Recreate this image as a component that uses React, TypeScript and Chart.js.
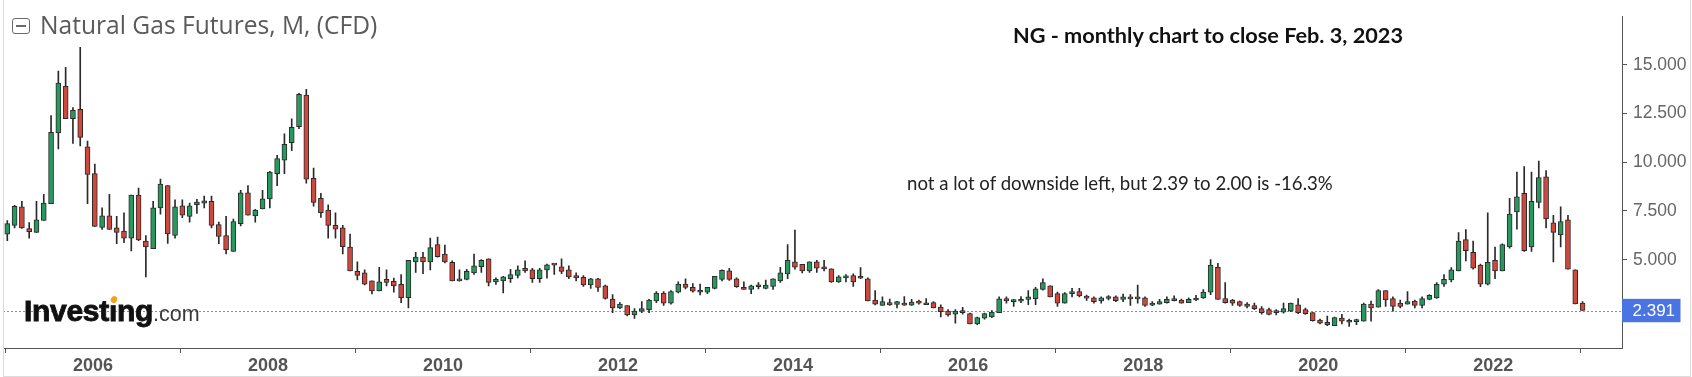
import React, { useEffect, useRef } from 'react';
import { Chart, registerables } from 'chart.js';

Chart.register(...registerables);

// Monthly NG candles, Feb 2005 .. Feb 2023
const opens: number[] = [
  6.31, 6.76, 7.71, 6.60, 6.40, 7.01, 7.87, 11.50, 13.89, 12.23, 12.72,
  10.79, 9.42, 6.65, 7.25, 6.63, 6.47, 6.11, 8.31, 5.95, 5.57, 7.66, 8.80,
  6.24, 7.77, 7.22, 7.82, 7.90, 7.99, 6.80, 6.24, 5.42, 6.85, 8.43, 7.25,
  7.61, 8.12, 9.42, 10.11, 11.00, 11.82, 13.45, 9.18, 8.15, 7.55, 6.76, 6.63,
  5.65, 4.40, 4.32, 3.91, 3.40, 3.99, 3.89, 3.73, 3.05, 4.89, 5.13, 4.89,
  5.78, 5.29, 4.87, 3.91, 3.99, 4.32, 4.64, 5.05, 3.86, 3.91, 4.02, 4.19,
  4.56, 4.48, 4.02, 4.48, 4.74, 4.64, 4.48, 4.19, 4.10, 3.70, 4.02, 3.66,
  2.98, 2.52, 2.65, 2.16, 2.36, 2.44, 2.88, 3.29, 2.77, 3.34, 3.75, 3.58,
  3.36, 3.34, 3.53, 3.99, 4.43, 4.02, 3.58, 3.47, 3.61, 3.53, 3.63, 3.91,
  4.27, 4.89, 4.76, 4.43, 4.89, 4.64, 4.53, 3.86, 4.07, 4.19, 4.05, 4.02,
  2.93, 2.65, 2.80, 2.70, 2.77, 2.67, 2.85, 2.77, 2.80, 2.57, 2.36, 2.21,
  2.39, 2.23, 1.71, 2.00, 2.06, 2.28, 3.00, 2.85, 2.87, 2.96, 3.00, 3.48,
  3.66, 3.26, 2.77, 3.26, 3.37, 3.07, 3.04, 2.88, 3.01, 3.09, 2.96, 3.09,
  2.99, 3.04, 2.67, 2.72, 2.80, 2.96, 2.93, 2.80, 2.93, 3.04, 3.34, 4.61,
  3.01, 2.93, 2.85, 2.72, 2.64, 2.49, 2.44, 2.28, 2.31, 2.36, 2.69, 2.44,
  2.28, 1.90, 1.79, 1.62, 2.00, 1.87, 1.82, 1.84, 2.72, 2.57, 3.42, 3.01,
  2.77, 2.72, 2.88, 2.65, 2.96, 3.04, 3.74, 3.96, 4.43, 6.03, 5.38, 4.72,
  3.74, 4.97, 4.43, 5.65, 7.45, 8.40, 5.65, 7.94, 9.25, 6.89, 6.27, 7.05,
  4.48, 2.77,
];

const highs: number[] = [
  7.01, 7.79, 7.99, 6.90, 7.99, 8.36, 12.40, 14.68, 14.87, 12.80, 15.90,
  11.09, 9.91, 7.66, 8.36, 7.22, 7.41, 8.31, 8.67, 6.24, 7.99, 9.13, 8.80,
  8.07, 8.07, 7.90, 8.10, 8.26, 8.26, 6.93, 7.22, 7.09, 8.56, 8.80, 7.58,
  8.56, 9.54, 10.35, 11.46, 12.23, 13.54, 13.74, 9.70, 8.40, 7.82, 7.41, 6.76,
  6.31, 4.89, 4.48, 3.91, 4.61, 4.48, 4.06, 4.24, 4.97, 5.38, 5.38, 6.11,
  6.16, 5.75, 4.94, 4.48, 4.51, 5.29, 5.00, 5.05, 4.07, 4.15, 4.51, 4.69,
  4.94, 4.56, 4.56, 4.77, 4.77, 5.05, 4.69, 4.32, 4.19, 4.05, 4.05, 3.70,
  3.21, 2.80, 2.65, 2.49, 2.85, 2.96, 3.37, 3.37, 3.42, 3.86, 4.02, 3.78,
  3.75, 3.58, 4.15, 4.48, 4.56, 4.07, 3.86, 3.70, 3.83, 3.96, 4.02, 4.61,
  5.78, 6.52, 4.76, 4.89, 4.97, 4.97, 4.53, 4.19, 4.24, 4.28, 4.59, 4.07,
  3.42, 3.09, 2.98, 2.87, 3.11, 2.96, 2.93, 3.00, 2.85, 2.69, 2.44, 2.44,
  2.55, 2.26, 2.06, 2.26, 2.39, 3.09, 3.09, 2.96, 3.11, 3.42, 3.58, 4.02,
  3.66, 3.34, 3.31, 3.53, 3.53, 3.19, 3.09, 3.09, 3.16, 3.14, 3.24, 3.21,
  3.70, 3.09, 2.85, 2.96, 3.09, 3.14, 2.98, 3.04, 3.17, 3.47, 5.00, 4.81,
  3.83, 2.96, 2.88, 2.80, 2.77, 2.60, 2.52, 2.44, 2.77, 2.77, 3.01, 2.52,
  2.28, 1.95, 2.11, 2.06, 2.20, 1.95, 1.95, 2.77, 2.88, 3.47, 3.42, 3.09,
  2.93, 3.37, 2.93, 3.09, 3.21, 3.83, 4.24, 4.59, 6.39, 6.55, 5.95, 4.77,
  7.41, 5.65, 5.81, 8.15, 9.50, 9.78, 9.50, 10.06, 9.57, 7.28, 7.71, 7.28,
  4.48, 2.85,
];

const lows: number[] = [
  5.98, 6.63, 6.60, 6.11, 6.40, 7.01, 7.87, 10.68, 12.23, 10.97, 10.84,
  7.87, 6.71, 6.55, 6.55, 5.82, 5.87, 5.45, 5.98, 4.12, 5.57, 7.33, 5.83,
  6.11, 7.15, 6.92, 7.38, 7.66, 6.63, 5.82, 5.30, 5.42, 6.73, 7.28, 6.92,
  7.61, 7.66, 8.80, 9.42, 10.60, 11.72, 8.92, 7.74, 7.17, 6.11, 6.11, 5.30,
  4.43, 3.96, 3.70, 3.24, 3.40, 3.66, 3.34, 2.80, 2.52, 4.35, 4.28, 4.48,
  5.13, 4.84, 3.91, 3.90, 3.96, 4.24, 4.35, 3.66, 3.73, 3.30, 3.83, 4.07,
  4.35, 3.83, 3.83, 4.05, 4.24, 4.28, 4.02, 3.91, 3.63, 3.53, 3.37, 2.98,
  2.28, 2.49, 2.11, 1.99, 2.28, 2.28, 2.80, 2.65, 2.72, 3.29, 3.50, 3.34,
  3.19, 3.26, 3.50, 3.91, 3.94, 3.58, 3.47, 3.26, 3.50, 3.50, 3.47, 3.83,
  4.02, 4.51, 4.32, 4.35, 4.35, 4.43, 3.83, 3.83, 3.86, 3.63, 4.02, 2.88,
  2.68, 2.65, 2.65, 2.52, 2.65, 2.65, 2.72, 2.69, 2.52, 2.06, 2.10, 1.74,
  2.21, 1.71, 1.67, 1.95, 2.03, 2.28, 2.77, 2.60, 2.80, 2.69, 2.69, 3.44,
  3.09, 2.60, 2.77, 3.09, 3.09, 2.91, 2.77, 2.77, 2.93, 2.85, 2.85, 2.65,
  2.77, 2.60, 2.64, 2.72, 2.77, 2.88, 2.77, 2.80, 2.90, 3.01, 3.21, 2.96,
  2.77, 2.65, 2.60, 2.52, 2.44, 2.20, 2.16, 2.16, 2.26, 2.33, 2.23, 2.19,
  1.84, 1.71, 1.62, 1.62, 1.71, 1.58, 1.67, 1.84, 1.84, 2.57, 2.60, 2.36,
  2.52, 2.72, 2.52, 2.52, 2.93, 3.01, 3.63, 3.86, 4.43, 4.94, 4.51, 3.61,
  3.71, 4.02, 4.43, 5.59, 6.56, 5.42, 5.42, 7.66, 6.63, 4.89, 5.65, 4.51,
  2.73, 2.391,
];

const closes: number[] = [
  6.85, 7.74, 6.63, 6.44, 7.04, 7.90, 11.53, 14.06, 12.23, 12.67, 11.28,
  9.37, 6.71, 7.25, 6.55, 6.40, 6.11, 8.31, 6.01, 5.65, 7.66, 8.88, 6.32,
  7.71, 7.28, 7.77, 7.95, 8.02, 6.76, 6.19, 5.51, 6.96, 8.43, 7.28, 7.55,
  8.12, 9.50, 10.19, 10.92, 11.79, 13.49, 9.13, 7.94, 7.41, 6.76, 6.57, 5.67,
  4.43, 4.19, 3.75, 3.40, 3.86, 3.83, 3.66, 3.05, 4.97, 5.13, 4.89, 5.62,
  5.16, 4.89, 3.91, 3.94, 4.40, 4.68, 4.97, 3.83, 3.99, 4.12, 4.24, 4.48,
  4.43, 4.02, 4.48, 4.74, 4.72, 4.40, 4.12, 4.07, 3.70, 4.02, 3.58, 3.01,
  2.52, 2.72, 2.16, 2.36, 2.49, 2.93, 3.29, 2.77, 3.37, 3.75, 3.58, 3.39,
  3.33, 3.58, 4.15, 4.45, 3.99, 3.61, 3.47, 3.66, 3.66, 3.70, 4.02, 4.32,
  4.97, 4.61, 4.43, 4.89, 4.56, 4.53, 3.86, 4.12, 4.12, 3.86, 4.15, 2.88,
  2.72, 2.85, 2.68, 2.85, 2.67, 2.83, 2.77, 2.69, 2.52, 2.33, 2.16, 2.36,
  2.28, 1.71, 2.03, 2.23, 2.31, 2.99, 2.88, 2.90, 2.96, 3.09, 3.50, 3.83,
  3.09, 2.77, 3.26, 3.34, 3.14, 3.03, 2.85, 3.04, 3.09, 2.90, 3.09, 2.99,
  3.06, 2.65, 2.74, 2.85, 2.96, 2.90, 2.77, 2.96, 3.01, 3.34, 4.72, 2.96,
  2.80, 2.77, 2.65, 2.60, 2.49, 2.28, 2.19, 2.36, 2.49, 2.77, 2.28, 2.23,
  1.87, 1.74, 1.67, 2.03, 1.84, 1.79, 1.90, 2.72, 2.52, 3.42, 2.93, 2.60,
  2.60, 2.85, 2.65, 3.01, 3.17, 3.74, 3.99, 4.48, 5.95, 5.46, 4.56, 3.75,
  4.87, 4.43, 5.78, 7.34, 8.23, 5.46, 7.99, 9.21, 7.09, 6.40, 6.96, 4.51,
  2.73, 2.391,
];

// Category labels: one per monthly candle, starting Feb 2005
const months: string[] = opens.map((_, i) => {
  const m = i + 1;
  const y = 2005 + Math.floor(m / 12);
  const mo = (m % 12) + 1;
  return `${y}-${String(mo).padStart(2, '0')}`;
});

const yearLabels: string[] = ['2006', '2008', '2010', '2012', '2014', '2016', '2018', '2020', '2022'];
const priceTicks: number[] = [5, 7.5, 10, 12.5, 15];

const TITLE = 'Natural Gas Futures, M, (CFD)';
const HEADLINE = 'NG - monthly chart to close Feb. 3, 2023';
const NOTE = 'not a lot of downside left, but 2.39 to 2.00 is -16.3%';

const GREEN = '#27995f';
const RED = '#cf483d';
const OUTLINE = '#2a2a2a';
const AXIS = '#555555';
const SANS = '"Liberation Sans", Arial, sans-serif';

const TICK_SHIFT = 0.75;
const yearTickPos = yearLabels.map((y) => months.indexOf(`${y}-01`) + TICK_SHIFT);

export default function App() {
  const ref = useRef<HTMLCanvasElement | null>(null);

  useEffect(() => {
    const canvas = ref.current;
    if (!canvas) return;
    const lastPrice = closes[closes.length - 1];

    const pricePlugin = {
      id: 'priceLine',
      beforeDatasetsDraw(chart: any) {
        const { ctx, chartArea, scales } = chart;
        const y = Math.round(scales.y.getPixelForValue(lastPrice)) + 0.5;
        ctx.save();
        ctx.strokeStyle = '#6f93d8';
        ctx.lineWidth = 1;
        ctx.setLineDash([2, 2]);
        ctx.beginPath();
        ctx.moveTo(chartArea.left, y);
        ctx.lineTo(chartArea.right, y);
        ctx.stroke();
        ctx.restore();
      },
      afterDraw(chart: any) {
        const { ctx, chartArea, scales } = chart;
        const y = scales.y.getPixelForValue(lastPrice);
        ctx.save();
        ctx.fillStyle = '#4a74e2';
        ctx.fillRect(chartArea.right, y - 11.7, 58.5, 23.4);
        ctx.fillStyle = '#ffffff';
        ctx.font = `17px ${SANS}`;
        ctx.textBaseline = 'middle';
        ctx.textAlign = 'left';
        ctx.fillText(lastPrice.toFixed(3), chartArea.right + 10.5, y + 1);
        ctx.restore();
      },
    };

    const chart = new Chart(canvas, {
      type: 'bar',
      data: {
        labels: months,
        datasets: [
          {
            label: 'body',
            data: opens.map((o, i) => ({ x: i, y: [o, closes[i]] })) as any,
            backgroundColor: opens.map((o, i) => (closes[i] >= o ? GREEN : RED)),
            borderColor: OUTLINE,
            borderWidth: 1,
            borderSkipped: false,
            barThickness: 5,
            minBarLength: 2,
            grouped: false,
            order: 0,
          } as any,
          {
            label: 'wick',
            data: lows.map((l, i) => ({ x: i, y: [l, highs[i]] })) as any,
            backgroundColor: OUTLINE,
            borderWidth: 0,
            barThickness: 1,
            grouped: false,
            order: 1,
          } as any,
        ],
      },
      options: {
        animation: false,
        responsive: false,
        devicePixelRatio: 1,
        layout: { padding: { left: 3, right: 0, top: 0, bottom: 0 } },
        plugins: {
          legend: { display: false },
          tooltip: { enabled: false },
          title: { display: false },
        },
        scales: {
          x: {
            type: 'linear',
            min: -0.59,
            max: 221.41,
            offset: false,
            grid: { display: true, drawOnChartArea: false, drawTicks: true, tickLength: 5, color: AXIS, tickColor: AXIS },
            border: { display: true, color: AXIS, width: 1 },
            ticks: {
              autoSkip: false,
              maxRotation: 0,
              padding: 2,
              color: '#555',
              font: { family: SANS, size: 18, weight: 'bold' },
              callback: (v: any) => {
                const k = yearTickPos.findIndex((p) => Math.abs(p - Number(v)) < 0.01);
                return k >= 0 ? yearLabels[k] : '';
              },
            },
            afterBuildTicks: (s: any) => {
              s.ticks = yearTickPos.map((v) => ({ value: v }));
            },
            afterFit: (s: any) => {
              s.height = 29;
            },
          },
          y: {
            type: 'linear',
            position: 'right',
            min: 0.469,
            max: 17.478,
            grid: { display: true, drawOnChartArea: false, drawTicks: true, tickLength: 5, color: AXIS, tickColor: AXIS },
            border: { display: true, color: AXIS, width: 1 },
            ticks: {
              padding: 6,
              color: '#666',
              font: { family: SANS, size: 17.5 },
              callback: (v: any) => Number(v).toFixed(3),
            },
            afterBuildTicks: (s: any) => {
              s.ticks = priceTicks.map((v) => ({ value: v }));
            },
            afterFit: (s: any) => {
              s.width = 70;
            },
          },
        },
      } as any,
      plugins: [pricePlugin],
    });

    return () => chart.destroy();
  }, []);

  return (
    <div style={{ position: 'absolute', left: 0, top: 0, width: 1692, height: 377, background: '#fff', overflow: 'hidden' }}>
      <canvas ref={ref} width={1692} height={377} style={{ position: 'absolute', left: 0, top: 0, width: 1692, height: 377 }} />
      {/* frame */}
      <div style={{ position: 'absolute', left: 3, top: -1, width: 1686, height: 376, border: '1px solid #dcdcdc', pointerEvents: 'none' }} />
      {/* collapse icon */}
      <div style={{ position: 'absolute', left: 12, top: 18, width: 16, height: 14, border: '1.5px solid #6a6a6a', borderRadius: 3 }}>
        <div style={{ position: 'absolute', left: 3, right: 3, top: 6.2, height: 1.5, background: '#6a6a6a' }} />
      </div>
      <div style={{ position: 'absolute', left: 40, top: 13, fontFamily: '"Open Sans", sans-serif', fontSize: 24.6, lineHeight: '24.6px', color: '#5a5a5a', whiteSpace: 'nowrap' }}>
        {TITLE}
      </div>
      <div style={{ position: 'absolute', left: 1013, top: 24.8, fontFamily: 'Lato, sans-serif', fontWeight: 700, fontSize: 21.7, lineHeight: '21.7px', color: '#111', whiteSpace: 'nowrap' }}>
        {HEADLINE}
      </div>
      <div style={{ position: 'absolute', left: 907, top: 174.2, fontFamily: 'Lato, sans-serif', fontSize: 18.6, lineHeight: '18.6px', color: '#222', whiteSpace: 'nowrap' }}>
        {NOTE}
      </div>
      {/* logo */}
      <div style={{ position: 'absolute', left: 24, top: 296.3, fontFamily: SANS, whiteSpace: 'nowrap', lineHeight: '30px' }}>
        <span style={{ fontSize: 30, fontWeight: 700, color: '#111', WebkitTextStroke: '0.9px #111', letterSpacing: '-0.3px' } as any}>
          Invest
          <span style={{ position: 'relative', display: 'inline-block' }}>
            <span style={{ display: 'inline-block', clipPath: 'inset(9px -2px 0 -2px)' }}>i</span>
            <span style={{ position: 'absolute', left: 2.5, top: -0.5, width: 6, height: 7, borderRadius: '50% 50% 45% 45%', background: '#f5a11c', transform: 'rotate(28deg)' }} />
          </span>
          ng
        </span>
        <span style={{ fontSize: 21.5, color: '#3a3a3a' }}>.com</span>
      </div>
    </div>
  );
}
